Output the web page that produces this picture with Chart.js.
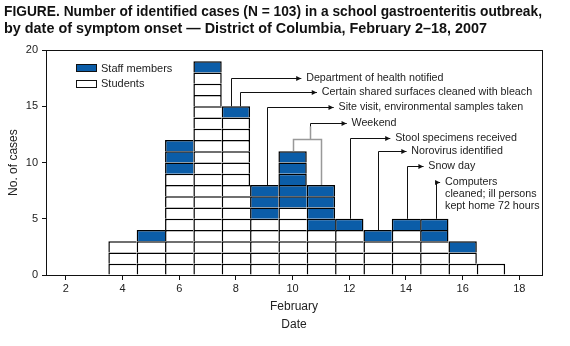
<!DOCTYPE html>
<html>
<head>
<meta charset="utf-8">
<script src="https://cdn.jsdelivr.net/npm/chart.js@4.4.0/dist/chart.umd.min.js"></script>
<style>
  html, body { margin: 0; padding: 0; background: #fff; }
  #wrap { width: 570px; height: 346px; }
</style>
</head>
<body>
<div id="wrap"><canvas id="myChart" width="570" height="346"></canvas></div>
<script>
// cases by date of symptom onset (February)
var days = [4, 5, 6, 7, 8, 9, 10, 11, 12, 13, 14, 15, 16, 17];
var students = [3, 3, 9, 18, 14, 5, 6, 4, 4, 3, 4, 3, 2, 1];
var staff = [0, 1, 3, 1, 1, 3, 5, 4, 1, 1, 1, 2, 1, 0];
var xTicks = [2, 4, 6, 8, 10, 12, 14, 16, 18];

// event notes: bar day, line x (in days), line top (cases), label start (days)
var notes = [
    { day: 8, x: 7.81, top: 17.5, label: 10.48, text: ['Department of health notified'] },
    { day: 8, x: 8.16, top: 16.3, label: 11.03, text: ['Certain shared surfaces cleaned with bleach'] },
    { day: 9, x: 9.09, top: 14.9, label: 11.62, text: ['Site visit, environmental samples taken'] },
    { day: 12, x: 12.01, top: 12.2, label: 13.62, text: ['Stool specimens received'] },
    { day: 13, x: 13.01, top: 11.0, label: 14.19, text: ['Norovirus identified'] },
    { day: 14, x: 14.04, top: 9.7, label: 14.79, text: ['Snow day'] },
    { day: 15, x: 15.05, top: 8.3, label: 15.38, text: ['Computers', 'cleaned; ill persons', 'kept home 72 hours'] }
];
var weekend = { days: [10, 11], join: 12.07, x: 10.6, top: 13.5, label: 12.08, text: ['Weekend'] };

var BLUE = '#0b5da8';
var FONT = '"Liberation Sans", Arial, Helvetica, sans-serif';

var totals = days.map(function (d, i) { return students[i] + staff[i]; });
function totalFor(d) {
    var i = days.indexOf(d);
    return i < 0 ? 0 : totals[i];
}

// one dataset per case level so each case is its own box
var datasets = [];
var maxTotal = Math.max.apply(null, totals);
for (var k = 1; k <= maxTotal; k++) {
    var pts = [], colors = [], widths = [];
    days.forEach(function (d, i) {
        if (totals[i] >= k) {
            pts.push({ x: d, y: 1 });
            colors.push(k > students[i] ? BLUE : '#ffffff');
            widths.push({ top: 1.5, left: 1.5, bottom: 0, right: totalFor(d + 1) < k ? 1.5 : 0 });
        }
    });
    datasets.push({
        label: 'level ' + k,
        data: pts,
        backgroundColor: colors,
        borderColor: '#000',
        borderWidth: widths,
        borderSkipped: false,
        inflateAmount: 0,
        barPercentage: 1,
        categoryPercentage: 1
    });
}

var extras = {
    id: 'extras',
    afterDraw: function (chart) {
        var c = chart.ctx, a = chart.chartArea;
        var xs = chart.scales.x, ys = chart.scales.y;
        c.save();
        // frame
        c.strokeStyle = '#111';
        c.lineWidth = 1;
        c.strokeRect(Math.round(a.left) + 0.5, Math.round(a.top) + 0.5,
            Math.round(a.right - a.left), Math.round(a.bottom - a.top));

        // legend
        c.fillStyle = BLUE;
        c.fillRect(76.5, 64.5, 20, 7);
        c.strokeRect(76.5, 64.5, 20, 7);
        c.fillStyle = '#fff';
        c.fillRect(76.5, 80.5, 20, 7);
        c.strokeRect(76.5, 80.5, 20, 7);
        c.fillStyle = '#222';
        c.font = '11px ' + FONT;
        c.textBaseline = 'middle';
        c.fillText('Staff members', 101, 68.5);
        c.fillText('Students', 101, 84);

        function arrow(x, y) {
            c.fillStyle = '#111';
            c.beginPath();
            c.moveTo(x, y);
            c.lineTo(x - 5, y - 2.5);
            c.lineTo(x - 5, y + 2.5);
            c.closePath();
            c.fill();
        }
        function label(n, y) {
            var xl = xs.getPixelForValue(n.label);
            var xt = xl - 5;
            c.strokeStyle = '#111';
            c.lineWidth = 1;
            c.beginPath();
            c.moveTo(xt - 4, y);
            c.lineTo(xt, y);
            c.stroke();
            arrow(xt, y);
            c.fillStyle = '#222';
            n.text.forEach(function (t, j) {
                c.fillText(t, xl, y + j * 12);
            });
        }

        c.font = '10.7px ' + FONT;
        // notes
        notes.forEach(function (n) {
            var x0 = Math.round(xs.getPixelForValue(n.x)) + 0.5;
            var yb = ys.getPixelForValue(totalFor(n.day));
            var yt = Math.round(ys.getPixelForValue(n.top)) + 0.5;
            var xt = xs.getPixelForValue(n.label) - 5;
            c.strokeStyle = '#111';
            c.lineWidth = 1;
            c.beginPath();
            c.moveTo(x0, yb);
            c.lineTo(x0, yt);
            c.lineTo(xt, yt);
            c.stroke();
            label(n, yt);
        });

        // weekend bracket
        var w = weekend;
        var yj = Math.round(ys.getPixelForValue(w.join)) + 0.5;
        var xa = Math.round(xs.getPixelForValue(w.days[0])) + 0.5;
        var xb = Math.round(xs.getPixelForValue(w.days[1])) + 0.5;
        var xm = Math.round(xs.getPixelForValue(w.x)) + 0.5;
        var yw = Math.round(ys.getPixelForValue(w.top)) + 0.5;
        c.strokeStyle = '#999';
        c.lineWidth = 1.5;
        c.beginPath();
        c.moveTo(xa, ys.getPixelForValue(totalFor(w.days[0])));
        c.lineTo(xa, yj);
        c.lineTo(xb, yj);
        c.lineTo(xb, ys.getPixelForValue(totalFor(w.days[1])));
        c.moveTo(xm, yj);
        c.lineTo(xm, yw + 3);
        c.stroke();
        c.strokeStyle = '#111';
        c.lineWidth = 1;
        c.beginPath();
        c.moveTo(xm, yw + 3);
        c.lineTo(xm, yw);
        c.lineTo(xs.getPixelForValue(w.label) - 5, yw);
        c.stroke();
        label(w, yw);
        c.restore();
    }
};

var ctx = document.getElementById('myChart');
var myChart = new Chart(ctx, {
    type: 'bar',
    data: { datasets: datasets },
    options: {
        responsive: false,
        animation: false,
        layout: { padding: { left: 4, right: 28, top: 0, bottom: 0 } },
        plugins: {
            legend: { display: false },
            tooltip: { enabled: false },
            title: {
                display: true,
                align: 'start',
                text: ['FIGURE. Number of identified cases (N = 103) in a school gastroenteritis outbreak,',
                       'by date of symptom onset \u2014 District of Columbia, February 2\u201318, 2007'],
                color: '#111',
                font: { family: FONT, size: 14.4, weight: 'bold', lineHeight: 1.15 },
                padding: { top: 4, bottom: 13 }
            }
        },
        scales: {
            x: {
                type: 'linear',
                stacked: true,
                offset: false,
                min: 1.3,
                max: 18.8,
                afterBuildTicks: function (s) { s.ticks = xTicks.map(function (v) { return { value: v }; }); },
                afterFit: function (s) { s.height = 71; },
                ticks: { color: '#222', font: { family: FONT, size: 11 }, padding: 2, maxRotation: 0 },
                grid: { drawOnChartArea: false, offset: false, tickLength: 5, color: '#111' },
                border: { color: '#111' },
                title: {
                    display: true,
                    text: ['February', 'Date'],
                    color: '#222',
                    font: { family: FONT, size: 12, lineHeight: 1.5 },
                    padding: { top: 0, bottom: 12.5 }
                }
            },
            y: {
                stacked: true,
                min: 0,
                max: 20,
                afterFit: function (s) { s.width = 42; },
                ticks: { stepSize: 5, color: '#222', font: { family: FONT, size: 11 }, padding: 4 },
                grid: { drawOnChartArea: false, tickLength: 4, color: '#111' },
                border: { color: '#111' },
                title: {
                    display: true,
                    text: 'No. of cases',
                    color: '#222',
                    font: { family: FONT, size: 12 },
                    padding: { top: 2, bottom: 0 }
                }
            }
        }
    },
    plugins: [extras]
});
</script>
</body>
</html>
